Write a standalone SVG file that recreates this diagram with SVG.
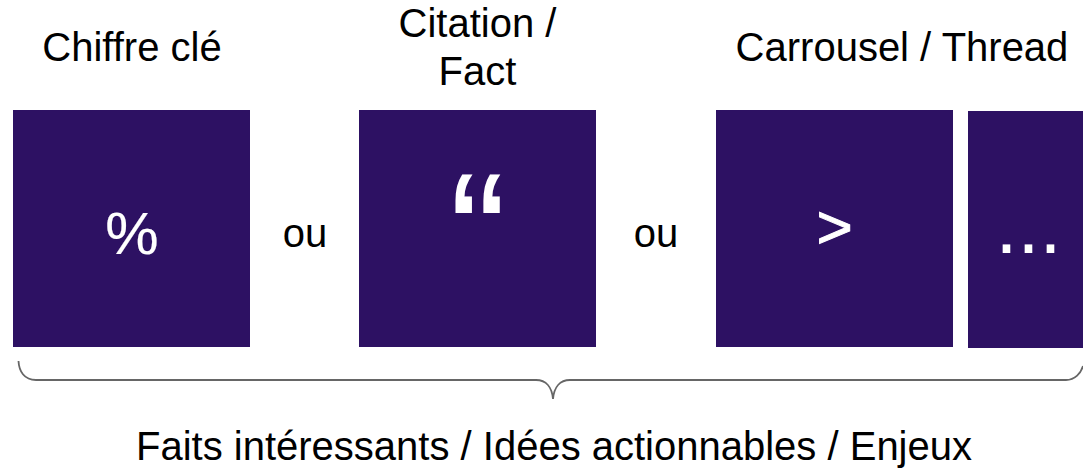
<svg xmlns="http://www.w3.org/2000/svg" width="1083" height="471" viewBox="0 0 1083 471">
<style>
.t{font-family:"Liberation Sans",Arial,sans-serif;font-size:40px;fill:#000;text-anchor:middle}
.g{font-family:"Liberation Sans",Arial,sans-serif;fill:#fff;text-anchor:middle}
.b{fill:#2d1163}
</style>
<rect width="1083" height="471" fill="#fff"/>
<g id="node-chiffre">
<text class="t" x="132" y="61">Chiffre clé</text>
<rect class="b" x="13" y="110" width="237" height="237"/>
<text class="g" x="132" y="254" font-size="60" stroke="#fff" stroke-width="0.2">%</text>
</g>
<g id="label-ou-1"><text class="t" x="305" y="247">ou</text></g>
<g id="node-citation">
<text class="t" x="477.500" y="37">Citation /</text>
<text class="t" x="477.500" y="85">Fact</text>
<rect class="b" x="359" y="110" width="237" height="237"/>
<text class="g" x="478" y="293" font-size="172">“</text>
</g>
<g id="label-ou-2"><text class="t" x="656" y="247">ou</text></g>
<g id="node-carrousel">
<text class="t" x="902" y="61">Carrousel / Thread</text>
<rect class="b" x="716" y="110" width="237" height="237"/>
<text class="g" x="834.500" y="248" font-size="62" stroke="#fff" stroke-width="1">&gt;</text>
</g>
<g id="node-suite">
<rect class="b" x="968" y="111" width="115" height="237"/>
<text class="g" x="1028.500" y="253" font-size="79">...</text>
</g>
<g id="connectors">
<path d="M18.500 361C19 371 24 380 36 380H536C546 380 552 387 553 399C554 387 560 380 570 380H1066C1075 380 1081 373 1083 366" fill="none" stroke="#666" stroke-width="1.800"/>
</g>
<g id="label-bas"><text class="t" x="554" y="460">Faits intéressants / Idées actionnables / Enjeux</text></g>
</svg>
